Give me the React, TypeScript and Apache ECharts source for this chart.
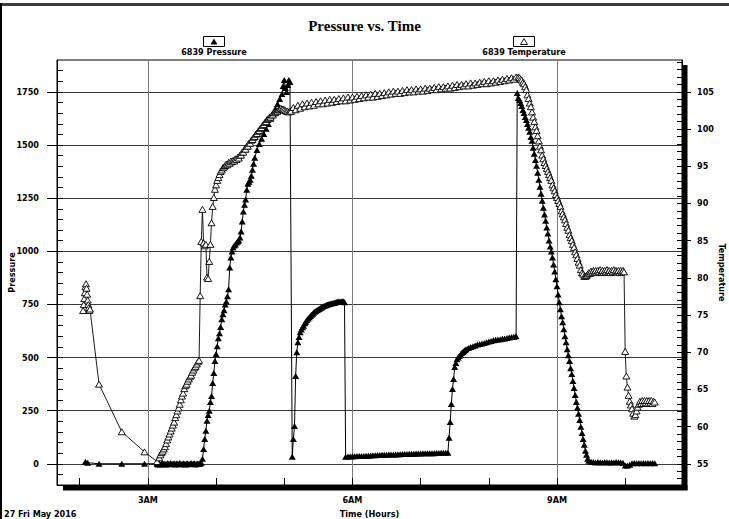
import React, { useEffect, useRef } from "react";
import * as echarts from "echarts";

const TITLE = "Pressure vs. Time";
const DATE_LABEL = "27 Fri May 2016";
const X_NAME = "Time (Hours)";
const P_AXIS_NAME = "Pressure";
const T_AXIS_NAME = "Temperature";
const P_SERIES = "6839 Pressure";
const T_SERIES = "6839 Temperature";

// axis ranges (hours of the day / psi / degrees)
const X_MIN = 1 + 40 / 60;
const X_MAX = 10 + 50 / 60;
const HOUR_TICKS = [2, 3, 4, 5, 6, 7, 8, 9, 10];
const HOUR_LABELS = [3, 6, 9];
const P_MIN = -100;
const P_MAX = 1900;
const P_LABELS = [0, 250, 500, 750, 1000, 1250, 1500, 1750];
const P_MINOR_STEP = 50;
const T_LABELS = [55, 60, 65, 70, 75, 80, 85, 90, 95, 100, 105];
const T_MINOR_STEP = 1;
// right axis is aligned so that 55 sits on pressure 0 and 105 on pressure 1750
const T_MIN = 55 + P_MIN / 35;
const T_MAX = 55 + P_MAX / 35;

// ---- 6839 Pressure (time, psi) ----
const pressureEarly: [string, number][] = [
  ["2:05", 10], ["2:07", 5], ["2:17", 0], ["2:37", 0], ["2:57", 0],
  ["3:08", 0], ["3:09", -3], ["3:10", 2], ["3:11", -4], ["3:12", 0], ["3:13", 3], ["3:14", -2],
  ["3:15", 1], ["3:16", -3], ["3:17", 2], ["3:18", 0], ["3:19", -2], ["3:20", 3], ["3:21", -1],
  ["3:22", 0], ["3:23", 2], ["3:24", -3], ["3:25", 1], ["3:26", 0], ["3:27", -2], ["3:28", 3],
  ["3:29", 0], ["3:30", -2], ["3:31", 2], ["3:32", 0], ["3:33", -3], ["3:34", 1], ["3:35", 2],
  ["3:36", -2], ["3:37", 0], ["3:38", 3], ["3:39", -1], ["3:40", 0], ["3:41", 2], ["3:42", -3],
  ["3:43", 0], ["3:44", 2], ["3:45", -1], ["3:46", 1], ["3:47", 5],
];
const pressureFirstRise: [string, number][] = [
  ["3:48", 23], ["3:49", 70], ["3:50", 117], ["3:51", 155], ["3:52", 202], ["3:53", 230],
  ["3:54", 249], ["3:55", 291], ["3:56", 319], ["3:57", 380], ["3:58", 427], ["3:59", 483],
  ["4:00", 516], ["4:01", 553], ["4:02", 591], ["4:03", 614], ["4:04", 643], ["4:05", 680],
  ["4:06", 704], ["4:07", 722], ["4:08", 750], ["4:09", 764], ["4:10", 788], ["4:11", 821],
  ["4:12", 924], ["4:13", 971], ["4:14", 999], ["4:15", 1018], ["4:16", 1027], ["4:17", 1032],
  ["4:18", 1041], ["4:19", 1046], ["4:20", 1051], ["4:21", 1065], ["4:22", 1093], ["4:23", 1140],
  ["4:24", 1187], ["4:25", 1219], ["4:26", 1243], ["4:27", 1290], ["4:28", 1318], ["4:29", 1327],
  ["4:30", 1337], ["4:31", 1355], ["4:32", 1384], ["4:33", 1412], ["4:34", 1440], ["4:36", 1477],
  ["4:38", 1505], ["4:40", 1529], ["4:42", 1552], ["4:44", 1576], ["4:46", 1599], ["4:48", 1623],
  ["4:50", 1646], ["4:52", 1670], ["4:54", 1693], ["4:56", 1717], ["4:58", 1740], ["4:59", 1778],
  ["5:00", 1806], ["5:01", 1768], ["5:02", 1749], ["5:03", 1782], ["5:04", 1806], ["5:05", 1796],
];
const pressureSecondStage: [string, number][] = [
  ["5:07", 33], ["5:08", 117], ["5:09", 178], ["5:10", 413], ["5:11", 525], ["5:12", 572],
  ["5:13", 596], ["5:14", 619], ["5:15", 632], ["5:16", 642], ["5:17", 650], ["5:18", 661],
  ["5:19", 668], ["5:20", 676], ["5:21", 684], ["5:22", 690], ["5:23", 695], ["5:24", 701],
  ["5:25", 706], ["5:26", 712], ["5:27", 716], ["5:28", 720], ["5:29", 724], ["5:30", 727],
  ["5:31", 730], ["5:32", 734], ["5:33", 737], ["5:34", 740], ["5:35", 742], ["5:36", 745],
  ["5:37", 747], ["5:38", 749], ["5:39", 751], ["5:40", 752], ["5:41", 754], ["5:42", 755],
  ["5:43", 757], ["5:44", 758], ["5:45", 759], ["5:46", 761], ["5:47", 762], ["5:48", 763],
  ["5:49", 764], ["5:50", 764], ["5:51", 765], ["5:52", 764], ["5:53", 760],
];
const pressureLowFlat: [string, number][] = [
  ["5:54", 33], ["5:56", 34], ["5:58", 34], ["6:00", 35], ["6:02", 35], ["6:04", 36], ["6:06", 36],
  ["6:08", 37], ["6:10", 37], ["6:12", 38], ["6:14", 38], ["6:16", 39], ["6:18", 40], ["6:20", 40],
  ["6:22", 41], ["6:24", 41], ["6:26", 42], ["6:28", 42], ["6:30", 42], ["6:32", 43], ["6:34", 43],
  ["6:36", 44], ["6:38", 44], ["6:40", 45], ["6:42", 45], ["6:44", 46], ["6:46", 46], ["6:48", 46],
  ["6:50", 47], ["6:52", 47], ["6:54", 47], ["6:56", 48], ["6:58", 48], ["7:00", 48], ["7:02", 49],
  ["7:04", 49], ["7:06", 50], ["7:08", 50], ["7:10", 50], ["7:12", 50], ["7:14", 51], ["7:16", 51],
  ["7:18", 52], ["7:20", 52], ["7:22", 52], ["7:24", 52],
];
const pressureThirdStage: [string, number][] = [
  ["7:25", 122], ["7:26", 197], ["7:27", 281], ["7:28", 352], ["7:29", 399], ["7:30", 455],
  ["7:31", 474], ["7:32", 492], ["7:33", 500], ["7:34", 507], ["7:35", 514], ["7:36", 521],
  ["7:37", 526], ["7:38", 530], ["7:39", 535], ["7:40", 539], ["7:42", 545], ["7:44", 550],
  ["7:46", 553], ["7:48", 557], ["7:50", 561], ["7:52", 564], ["7:54", 566], ["7:56", 568],
  ["7:58", 572], ["8:00", 575], ["8:02", 578], ["8:04", 581], ["8:06", 583], ["8:08", 585],
  ["8:10", 586], ["8:12", 588], ["8:14", 590], ["8:16", 592], ["8:18", 594], ["8:20", 596],
  ["8:22", 598], ["8:24", 600],
];
const pressureBleedOff: [string, number][] = [
  ["8:25", 1745], ["8:26", 1721], ["8:27", 1712], ["8:28", 1698], ["8:29", 1684], ["8:30", 1665],
  ["8:31", 1651], ["8:32", 1632], ["8:33", 1618], ["8:34", 1599], ["8:35", 1581], ["8:36", 1562],
  ["8:37", 1538], ["8:38", 1520], ["8:39", 1487], ["8:40", 1459], ["8:41", 1430], ["8:42", 1402],
  ["8:43", 1369], ["8:44", 1337], ["8:45", 1304], ["8:46", 1271], ["8:47", 1238], ["8:48", 1205],
  ["8:49", 1173], ["8:50", 1144], ["8:51", 1112], ["8:52", 1083], ["8:53", 1051], ["8:54", 1022],
  ["8:55", 999], ["8:56", 971], ["8:57", 938], ["8:58", 905], ["8:59", 868], ["9:00", 835],
  ["9:01", 797], ["9:02", 760], ["9:03", 727], ["9:04", 694], ["9:05", 666], ["9:06", 633],
  ["9:07", 600], ["9:08", 572], ["9:09", 539], ["9:10", 511], ["9:11", 483], ["9:12", 450],
  ["9:13", 422], ["9:14", 389], ["9:15", 356], ["9:16", 324], ["9:17", 291], ["9:18", 263],
  ["9:19", 235], ["9:20", 206], ["9:21", 174], ["9:22", 145], ["9:23", 117], ["9:24", 89],
  ["9:25", 61], ["9:26", 42], ["9:27", 23], ["9:28", 14], ["9:30", 9],
];
const pressureEnd: [string, number][] = [
  ["9:32", 8], ["9:34", 6], ["9:36", 8], ["9:38", 7], ["9:40", 6], ["9:42", 8], ["9:44", 7],
  ["9:46", 6], ["9:48", 7], ["9:50", 6], ["9:52", 8], ["9:54", 7], ["9:56", 6], ["9:58", 5],
  ["10:00", -8], ["10:02", -8], ["10:04", -5], ["10:06", 2], ["10:08", 3], ["10:10", 2],
  ["10:12", 3], ["10:14", 2], ["10:16", 3], ["10:18", 2], ["10:20", 3], ["10:22", 2],
  ["10:24", 3], ["10:26", 2],
];

// ---- 6839 Temperature (time, degrees) ----
const tempEarly: [string, number][] = [
  ["2:03:00", 75.6], ["2:03:30", 76.4], ["2:04:00", 77.2], ["2:04:30", 78.0], ["2:05:00", 78.8],
  ["2:05:30", 79.2], ["2:06:00", 78.6], ["2:06:30", 77.8], ["2:07:00", 77.0], ["2:07:30", 76.4],
  ["2:08:00", 76.0], ["2:08:30", 75.6], ["2:09:00", 75.8],
  ["2:17", 65.7], ["2:37", 59.3], ["2:57", 56.6], ["3:08", 55.3],
];
const tempFirstRise: [string, number][] = [
  ["3:10", 55.8], ["3:11", 56.2], ["3:12", 56.5], ["3:13", 56.7], ["3:14", 57.0], ["3:15", 57.3],
  ["3:16", 57.7], ["3:17", 58.2], ["3:18", 58.6], ["3:19", 59.0], ["3:20", 59.4], ["3:21", 59.8],
  ["3:22", 60.2], ["3:23", 60.6], ["3:24", 61.2], ["3:25", 61.6], ["3:26", 62.1], ["3:27", 62.5],
  ["3:28", 63.0], ["3:29", 63.6], ["3:30", 64.1], ["3:31", 64.5], ["3:32", 65.1], ["3:33", 65.5],
  ["3:34", 65.7], ["3:35", 66.1], ["3:36", 66.4], ["3:37", 66.7], ["3:38", 66.9], ["3:39", 67.3],
  ["3:40", 67.6], ["3:41", 67.9], ["3:42", 68.1], ["3:43", 68.4], ["3:44", 68.7], ["3:45", 68.9],
];
const tempClimb: [string, number][] = [
  ["3:46", 77.6], ["3:47", 84.9], ["3:48", 89.2], ["3:49", 84.7], ["3:50", 84.3], ["3:51", 84.5],
  ["3:52", 80.1], ["3:53", 79.9], ["3:54", 82.2], ["3:55", 84.5], ["3:56", 87.4], ["3:57", 89.6],
  ["3:58", 90.8], ["3:59", 91.9], ["4:00", 92.5], ["4:01", 93.1], ["4:02", 93.5], ["4:03", 93.9],
  ["4:04", 94.3], ["4:05", 94.5], ["4:06", 94.8], ["4:07", 94.9], ["4:08", 95.1], ["4:09", 95.3],
  ["4:10", 95.2], ["4:11", 95.5], ["4:12", 95.4], ["4:13", 95.7], ["4:14", 95.6], ["4:15", 95.8],
  ["4:16", 95.7], ["4:17", 96.0], ["4:18", 95.9], ["4:19", 96.2], ["4:20", 96.1], ["4:21", 96.5],
  ["4:22", 96.5], ["4:23", 96.9], ["4:24", 96.9], ["4:25", 97.3], ["4:26", 97.3], ["4:27", 97.7],
  ["4:28", 97.7], ["4:29", 98.1], ["4:30", 98.1], ["4:31", 98.5], ["4:32", 98.6], ["4:33", 98.9],
  ["4:34", 99.0], ["4:35", 99.3], ["4:36", 99.4], ["4:37", 99.7], ["4:38", 99.8], ["4:39", 100.1],
  ["4:40", 100.2], ["4:41", 100.5], ["4:42", 100.6], ["4:43", 100.9], ["4:44", 101.0], ["4:45", 101.3],
  ["4:46", 101.4], ["4:47", 101.6], ["4:48", 101.6], ["4:49", 101.9], ["4:50", 101.9], ["4:51", 102.2],
  ["4:52", 102.2], ["4:53", 102.4], ["4:54", 102.4], ["4:55", 102.6], ["4:56", 102.6], ["4:57", 102.8],
  ["4:58", 102.7], ["4:59", 102.7], ["5:00", 102.6], ["5:01", 102.5], ["5:02", 102.4], ["5:03", 102.4],
  ["5:04", 102.3], ["5:05", 102.4],
];
const tempPlateau: [string, number][] = [
  ["5:06", 102.4], ["5:08", 102.9], ["5:10", 102.6], ["5:12", 103.2], ["5:14", 102.8], ["5:16", 103.4],
  ["5:18", 103.0], ["5:20", 103.5], ["5:22", 103.1], ["5:24", 103.6], ["5:26", 103.2], ["5:28", 103.7],
  ["5:30", 103.4], ["5:32", 103.8], ["5:34", 103.4], ["5:36", 103.9], ["5:38", 103.5], ["5:40", 104.0],
  ["5:42", 103.6], ["5:44", 104.0], ["5:46", 103.7], ["5:48", 104.1], ["5:50", 103.8], ["5:52", 104.2],
  ["5:54", 103.8], ["5:56", 104.3], ["5:58", 103.9], ["6:00", 104.3], ["6:02", 104.0], ["6:04", 104.4],
  ["6:06", 104.1], ["6:08", 104.5], ["6:10", 104.2], ["6:12", 104.6], ["6:14", 104.3], ["6:16", 104.7],
  ["6:18", 104.3], ["6:20", 104.8], ["6:22", 104.4], ["6:24", 104.8], ["6:26", 104.5], ["6:28", 104.9],
  ["6:30", 104.6], ["6:32", 105.0], ["6:34", 104.7], ["6:36", 105.1], ["6:38", 104.8], ["6:40", 105.1],
  ["6:42", 104.8], ["6:44", 105.2], ["6:46", 104.9], ["6:48", 105.3], ["6:50", 105.0], ["6:52", 105.3],
  ["6:54", 105.0], ["6:56", 105.4], ["6:58", 105.1], ["7:00", 105.4], ["7:02", 105.1], ["7:04", 105.5],
  ["7:06", 105.2], ["7:08", 105.5], ["7:10", 105.3], ["7:12", 105.6], ["7:14", 105.3], ["7:16", 105.7],
  ["7:18", 105.4], ["7:20", 105.7], ["7:22", 105.5], ["7:24", 105.8], ["7:26", 105.5], ["7:28", 105.9],
  ["7:30", 105.6], ["7:32", 106.0], ["7:34", 105.7], ["7:36", 106.0], ["7:38", 105.8], ["7:40", 106.1],
  ["7:42", 105.8], ["7:44", 106.2], ["7:46", 105.9], ["7:48", 106.2], ["7:50", 106.0], ["7:52", 106.3],
  ["7:54", 106.1], ["7:56", 106.4], ["7:58", 106.1], ["8:00", 106.5], ["8:02", 106.2], ["8:04", 106.5],
  ["8:06", 106.3], ["8:08", 106.6], ["8:10", 106.4], ["8:12", 106.7], ["8:14", 106.5], ["8:16", 106.8],
  ["8:18", 106.6], ["8:20", 106.9], ["8:22", 106.7], ["8:24", 107.0], ["8:26", 107.0],
];
const tempCoolDown: [string, number][] = [
  ["8:27", 106.9], ["8:28", 106.7], ["8:29", 106.6], ["8:30", 106.3], ["8:31", 106.1], ["8:32", 105.7],
  ["8:33", 105.3], ["8:34", 104.6], ["8:35", 104.1], ["8:36", 103.5], ["8:37", 103.0], ["8:38", 102.3],
  ["8:39", 101.6], ["8:40", 101.0], ["8:41", 100.3], ["8:42", 99.8], ["8:43", 99.1], ["8:44", 98.4],
  ["8:45", 97.7], ["8:46", 97.2], ["8:47", 96.5], ["8:48", 96.0], ["8:49", 95.5], ["8:50", 95.1],
  ["8:51", 94.7], ["8:52", 94.3], ["8:53", 93.9], ["8:54", 93.5], ["8:55", 93.1], ["8:56", 92.5],
  ["8:57", 92.1], ["8:58", 91.7], ["8:59", 91.2], ["9:00", 90.8], ["9:01", 90.4], ["9:02", 90.0],
  ["9:03", 89.6], ["9:04", 89.0], ["9:05", 88.6], ["9:06", 88.2], ["9:07", 87.8], ["9:08", 87.3],
  ["9:09", 86.8], ["9:10", 86.4], ["9:11", 85.8], ["9:12", 85.4], ["9:13", 85.0], ["9:14", 84.5],
  ["9:15", 84.1], ["9:16", 83.5], ["9:17", 83.1], ["9:18", 82.6], ["9:19", 82.1], ["9:20", 81.7],
  ["9:21", 81.1], ["9:22", 80.7], ["9:23", 80.5], ["9:24", 80.2], ["9:25", 80.2], ["9:26", 80.3],
  ["9:27", 80.5], ["9:28", 80.7], ["9:29", 80.6], ["9:30", 80.9], ["9:31", 80.7], ["9:32", 81.0],
  ["9:33", 80.8], ["9:34", 81.0], ["9:35", 80.7], ["9:36", 81.0], ["9:37", 80.8], ["9:38", 81.1],
  ["9:39", 80.8], ["9:40", 81.0], ["9:41", 80.7], ["9:42", 81.0], ["9:43", 80.8], ["9:44", 81.1],
  ["9:45", 80.8], ["9:46", 81.0], ["9:47", 80.7], ["9:48", 81.0], ["9:49", 80.8], ["9:50", 81.1],
  ["9:51", 80.8], ["9:52", 81.0], ["9:53", 80.8], ["9:54", 81.0], ["9:55", 80.7], ["9:56", 81.0],
  ["9:57", 80.8], ["9:58", 81.0], ["9:59", 80.8],
];
const tempEnd: [string, number][] = [
  ["10:00", 70.1], ["10:01", 66.8], ["10:02", 65.3], ["10:03", 64.2], ["10:04", 63.4], ["10:05", 62.9],
  ["10:06", 62.4], ["10:07", 61.8], ["10:08", 61.4], ["10:09", 61.6], ["10:10", 62.1], ["10:11", 62.6],
  ["10:12", 63.0], ["10:13", 63.4], ["10:14", 63.1], ["10:15", 63.5], ["10:16", 63.1], ["10:17", 63.5],
  ["10:18", 63.2], ["10:19", 63.5], ["10:20", 63.1], ["10:21", 63.5], ["10:22", 63.2], ["10:23", 63.5],
  ["10:24", 63.1], ["10:25", 63.4], ["10:26", 63.3],
];

const FONT = "'Liberation Sans Narrow', 'DejaVu Sans Condensed', 'Liberation Sans', sans-serif";

const parseTime = (s: string) => {
  const [h, m, sec = 0] = s.split(":").map(Number);
  return h + m / 60 + sec / 3600;
};
const toPoints = (...parts: [string, number][][]) =>
  parts.flat().map(([t, v]) => [parseTime(t), v]);

const range = (from: number, to: number, step: number) => {
  const out: number[] = [];
  for (let v = from; v <= to + 1e-9; v += step) out.push(v);
  return out;
};

const labelStyle = { fontFamily: FONT, fontWeight: "bold" as const, fontSize: 9, color: "#000" };

export default function App() {
  const ref = useRef<HTMLDivElement>(null);

  useEffect(() => {
    if (!ref.current) return;
    const chart = echarts.init(ref.current, undefined, { renderer: "svg" });

    const pressurePoints = toPoints(
      pressureEarly, pressureFirstRise, pressureSecondStage, pressureLowFlat,
      pressureThirdStage, pressureBleedOff, pressureEnd
    );
    const tempPoints = toPoints(tempEarly, tempFirstRise, tempClimb, tempPlateau, tempCoolDown, tempEnd);

    const pMinor = range(P_MIN + P_MINOR_STEP, P_MAX - P_MINOR_STEP, P_MINOR_STEP);
    const tMinor = range(Math.ceil(T_MIN), Math.floor(T_MAX), T_MINOR_STEP);

    const legendFont = `bold 9px ${FONT}`;

    chart.setOption({
      animation: false,
      backgroundColor: "#fff",
      title: {
        text: TITLE,
        left: "center",
        top: 13,
        textStyle: { fontFamily: "'Liberation Serif', serif", fontWeight: "bold", fontSize: 15, color: "#000" },
      },
      grid: {
        left: 57, right: 47, top: 60, bottom: 34, show: true, borderColor: "#000", borderWidth: 1,
        backgroundColor: "transparent", containLabel: false, outerBoundsMode: "none",
      },
      xAxis: [
        {
          type: "value", min: X_MIN, max: X_MAX, position: "bottom",
          axisLine: { show: true, onZero: false, lineStyle: { color: "#000", width: 1 } },
          axisTick: { show: true, inside: true, length: 7, customValues: HOUR_TICKS, lineStyle: { color: "#000" } },
          axisLabel: { show: true, customValues: HOUR_LABELS, formatter: (v: number) => `${v}AM`, margin: 10, ...labelStyle },
          splitLine: { show: false },
          name: X_NAME, nameLocation: "middle", nameGap: 24, nameMoveOverlap: false, nameTextStyle: labelStyle,
        },
        {
          type: "value", min: X_MIN, max: X_MAX, position: "bottom",
          axisLine: { show: false, onZero: false },
          axisTick: { show: false, customValues: HOUR_LABELS },
          axisLabel: { show: false, customValues: HOUR_LABELS },
          splitLine: { show: true, lineStyle: { color: "#7a7a7a", width: 1 } },
        },
      ],
      yAxis: [
        {
          type: "value", min: P_MIN, max: P_MAX, position: "left",
          axisLine: { show: true, onZero: false, lineStyle: { color: "#000", width: 1 } },
          axisTick: { show: true, inside: true, length: 6, customValues: pMinor, lineStyle: { color: "#000" } },
          axisLabel: { show: false },
          splitLine: { show: false },
        },
        {
          type: "value", min: P_MIN, max: P_MAX, position: "left",
          axisLine: { show: false, onZero: false },
          axisTick: { show: true, inside: false, length: 10, customValues: P_LABELS, lineStyle: { color: "#000" } },
          axisLabel: { show: true, customValues: P_LABELS, formatter: (v: number) => String(v), margin: 18, ...labelStyle },
          splitLine: { show: true, lineStyle: { color: "#3a3a3a", width: 1 } },
          name: P_AXIS_NAME, nameLocation: "middle", nameGap: 41, nameMoveOverlap: false, nameTextStyle: labelStyle,
        },
        {
          type: "value", min: T_MIN, max: T_MAX, position: "right",
          axisLine: { show: true, onZero: false, lineStyle: { color: "#000", width: 1 } },
          axisTick: { show: true, inside: true, length: 5, customValues: tMinor, lineStyle: { color: "#000" } },
          axisLabel: { show: false },
          splitLine: { show: false },
        },
        {
          type: "value", min: T_MIN, max: T_MAX, position: "right",
          axisLine: { show: false, onZero: false },
          axisTick: { show: true, inside: false, length: 9, customValues: T_LABELS, lineStyle: { color: "#000" } },
          axisLabel: { show: true, customValues: T_LABELS, formatter: (v: number) => String(v), margin: 15, ...labelStyle },
          splitLine: { show: false },
          name: T_AXIS_NAME, nameLocation: "middle", nameRotate: -90, nameGap: 35, nameMoveOverlap: false, nameTextStyle: labelStyle,
        },
      ],
      series: [
        {
          name: P_SERIES, type: "line", xAxisIndex: 0, yAxisIndex: 0, data: pressurePoints,
          symbol: "triangle", symbolSize: [7, 6], showSymbol: true, showAllSymbol: true,
          itemStyle: { color: "#000" }, lineStyle: { color: "#000", width: 1 }, z: 3, silent: true,
        },
        {
          name: T_SERIES, type: "line", xAxisIndex: 0, yAxisIndex: 2, data: tempPoints,
          symbol: "triangle", symbolSize: [7, 6], showSymbol: true, showAllSymbol: true,
          itemStyle: { color: "#fff", borderColor: "#000", borderWidth: 0.9 },
          lineStyle: { color: "#000", width: 0.9 }, z: 4, silent: true,
        },
      ],
      graphic: [
        { type: "rect", silent: true, shape: { x: 0, y: 3, width: 729, height: 3 }, style: { fill: "#3c3c3c" } },
        { type: "rect", silent: true, shape: { x: 0, y: 3, width: 2, height: 516 }, style: { fill: "#000" } },
        { type: "rect", silent: true, shape: { x: 682.5, y: 65, width: 5, height: 425 }, style: { fill: "#000" } },
        { type: "rect", silent: true, shape: { x: 63, y: 485.5, width: 624.5, height: 5 }, style: { fill: "#000" } },
        { type: "rect", silent: true, shape: { x: 203.5, y: 36.5, width: 21, height: 10 }, style: { fill: "#fff", stroke: "#000", lineWidth: 1 } },
        { type: "polygon", silent: true, shape: { points: [[214, 38.5], [210.5, 44.5], [217.5, 44.5]] }, style: { fill: "#000" } },
        { type: "text", silent: true, style: { text: P_SERIES, x: 214, y: 52, font: legendFont, fill: "#000", textAlign: "center", textVerticalAlign: "middle", align: "center", verticalAlign: "middle" } },
        { type: "rect", silent: true, shape: { x: 513.5, y: 36.5, width: 21, height: 10 }, style: { fill: "#fff", stroke: "#000", lineWidth: 1 } },
        { type: "polygon", silent: true, shape: { points: [[524, 38.5], [520.5, 44.5], [527.5, 44.5]] }, style: { fill: "#fff", stroke: "#000", lineWidth: 0.9 } },
        { type: "text", silent: true, style: { text: T_SERIES, x: 524, y: 52, font: legendFont, fill: "#000", textAlign: "center", textVerticalAlign: "middle", align: "center", verticalAlign: "middle" } },
        { type: "text", silent: true, style: { text: DATE_LABEL, x: 4, y: 514, font: legendFont, fill: "#000", textAlign: "left", textVerticalAlign: "middle", align: "left", verticalAlign: "middle" } },
      ],
    });

    return () => chart.dispose();
  }, []);

  return (
    <div
      ref={ref}
      style={{ position: "fixed", left: 0, top: 0, width: 729, height: 519, background: "#fff" }}
    />
  );
}
